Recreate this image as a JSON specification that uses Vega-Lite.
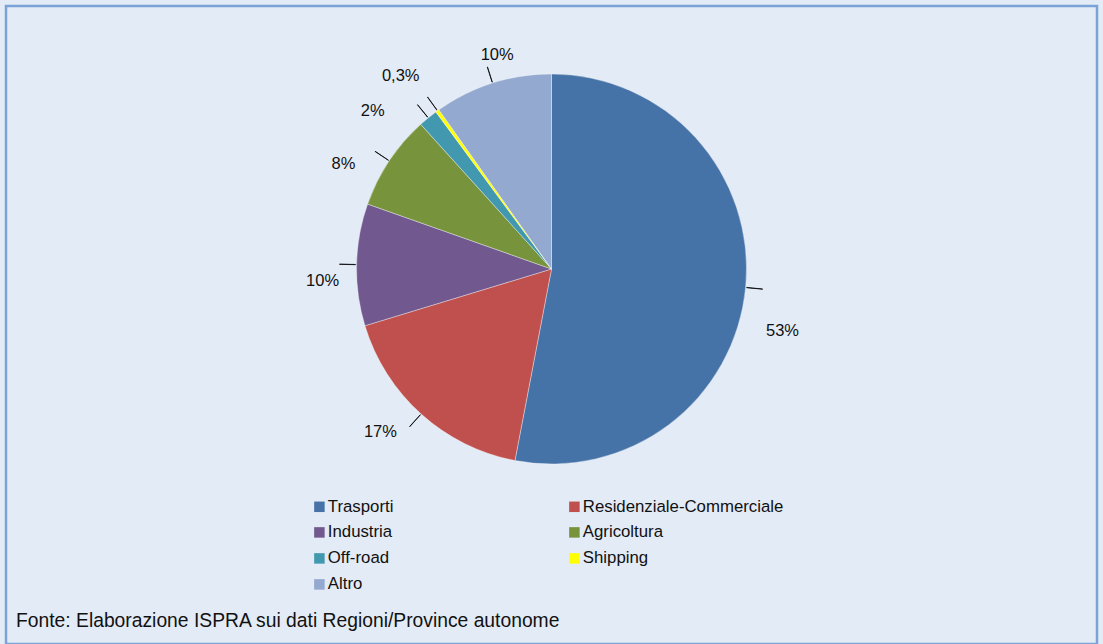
{
  "$schema": "https://vega.github.io/schema/vega-lite/v6.json",
  "width": 1091,
  "height": 638,
  "autosize": "none",
  "padding": {"left": 6, "top": 6, "right": 6, "bottom": 0},
  "background": "#E3EBF6",
  "view": {"stroke": "#7BA3D6", "strokeWidth": 2.5, "fill": "#E3EBF6"},
  "config": {
    "view": {"stroke": "#7BA3D6", "strokeWidth": 2.5, "fill": "#E3EBF6"},
    "font": "Liberation Sans"
  },
  "title": {
    "text": "Fonte: Elaborazione ISPRA sui dati Regioni/Province autonome",
    "orient": "bottom",
    "anchor": "start",
    "frame": "group",
    "offset": -17,
    "dx": 10,
    "baseline": "alphabetic",
    "fontSize": 19.3,
    "fontWeight": "normal",
    "font": "Liberation Sans",
    "color": "#111111"
  },
  "data": {
    "values": [
      {"idx": 1, "category": "Trasporti", "value": 53.0, "label": "53%"},
      {"idx": 2, "category": "Residenziale-Commerciale", "value": 17.3, "label": "17%"},
      {"idx": 3, "category": "Industria", "value": 10.1, "label": "10%"},
      {"idx": 4, "category": "Agricoltura", "value": 7.9, "label": "8%"},
      {"idx": 5, "category": "Off-road", "value": 1.6, "label": "2%"},
      {"idx": 6, "category": "Shipping", "value": 0.3, "label": "0,3%"},
      {"idx": 7, "category": "Altro", "value": 9.8, "label": "10%"}
    ]
  },
  "transform": [
    {"stack": "value", "groupby": [], "sort": [{"field": "idx", "order": "ascending"}], "as": ["v0", "v1"]},
    {"calculate": "(datum.v0 + datum.v1) / 2", "as": "mid"},
    {"calculate": "datum.mid + 0.02", "as": "mid2"}
  ],
  "layer": [
    {
      "mark": {"type": "arc", "radius": 195, "stroke": "#FFFFFF", "strokeWidth": 0.6, "strokeOpacity": 0.6, "yOffset": -56},
      "encoding": {
        "theta": {"field": "v0", "type": "quantitative", "scale": {"domain": [0, 100]}},
        "theta2": {"field": "v1"},
        "color": {
          "field": "category",
          "type": "nominal",
          "scale": {
            "domain": ["Trasporti", "Industria", "Off-road", "Altro", "Residenziale-Commerciale", "Agricoltura", "Shipping"],
            "range": ["#4572A7", "#71588F", "#4198AF", "#93A9CF", "#C0504D", "#77933C", "#FFFF00"]
          },
          "legend": {
            "title": null,
            "orient": "none",
            "legendX": 305,
            "legendY": 492,
            "columns": 2,
            "columnPadding": 172,
            "rowPadding": 8,
            "padding": 0,
            "symbolType": "square",
            "symbolSize": 110,
            "symbolStrokeWidth": 0,
            "labelOffset": 0,
            "labelFontSize": 16.8,
            "labelFont": "Liberation Sans",
            "labelColor": "#111111",
            "labelLimit": 400
          }
        }
      }
    },
    {
      "mark": {"type": "arc", "radius": 212, "radius2": 196, "color": "#000000", "stroke": "#000000", "strokeWidth": 0.7, "yOffset": -56},
      "encoding": {
        "theta": {"field": "mid", "type": "quantitative", "scale": {"domain": [0, 100]}},
        "theta2": {"field": "mid2"}
      }
    },
    {
      "transform": [{"filter": "datum.idx == 1"}],
      "mark": {"type": "text", "radius": 232, "fontSize": 16.5, "font": "Liberation Sans", "color": "#111111", "yOffset": -56, "dy": 40},
      "encoding": {"theta": {"field": "mid", "type": "quantitative", "scale": {"domain": [0, 100]}}, "text": {"field": "label"}}
    },
    {
      "transform": [{"filter": "datum.idx == 2"}],
      "mark": {"type": "text", "radius": 232, "fontSize": 16.5, "font": "Liberation Sans", "color": "#111111", "yOffset": -56, "dx": -16, "dy": -10},
      "encoding": {"theta": {"field": "mid", "type": "quantitative", "scale": {"domain": [0, 100]}}, "text": {"field": "label"}}
    },
    {
      "transform": [{"filter": "datum.idx == 3"}],
      "mark": {"type": "text", "radius": 232, "fontSize": 16.5, "font": "Liberation Sans", "color": "#111111", "yOffset": -56, "dx": 3, "dy": 17},
      "encoding": {"theta": {"field": "mid", "type": "quantitative", "scale": {"domain": [0, 100]}}, "text": {"field": "label"}}
    },
    {
      "transform": [{"filter": "datum.idx == 4"}],
      "mark": {"type": "text", "radius": 232, "fontSize": 16.5, "font": "Liberation Sans", "color": "#111111", "yOffset": -56, "dx": -15, "dy": 24},
      "encoding": {"theta": {"field": "mid", "type": "quantitative", "scale": {"domain": [0, 100]}}, "text": {"field": "label"}}
    },
    {
      "transform": [{"filter": "datum.idx == 5"}],
      "mark": {"type": "text", "radius": 232, "fontSize": 16.5, "font": "Liberation Sans", "color": "#111111", "yOffset": -56, "dx": -32, "dy": 22},
      "encoding": {"theta": {"field": "mid", "type": "quantitative", "scale": {"domain": [0, 100]}}, "text": {"field": "label"}}
    },
    {
      "transform": [{"filter": "datum.idx == 6"}],
      "mark": {"type": "text", "radius": 232, "fontSize": 16.5, "font": "Liberation Sans", "color": "#111111", "yOffset": -56, "dx": -15, "dy": -5},
      "encoding": {"theta": {"field": "mid", "type": "quantitative", "scale": {"domain": [0, 100]}}, "text": {"field": "label"}}
    },
    {
      "transform": [{"filter": "datum.idx == 7"}],
      "mark": {"type": "text", "radius": 232, "fontSize": 16.5, "font": "Liberation Sans", "color": "#111111", "yOffset": -56, "dx": 16, "dy": 7},
      "encoding": {"theta": {"field": "mid", "type": "quantitative", "scale": {"domain": [0, 100]}}, "text": {"field": "label"}}
    }
  ]
}
